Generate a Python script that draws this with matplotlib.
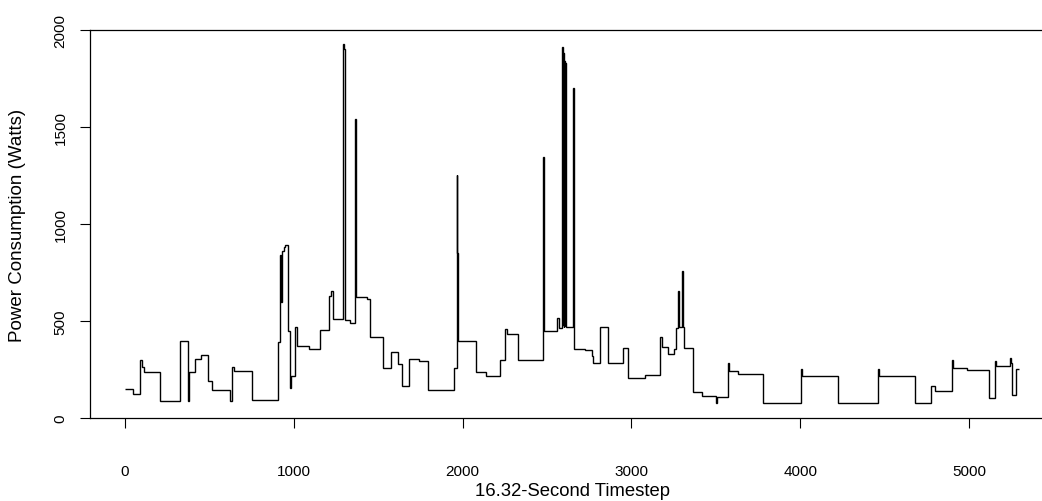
import matplotlib
matplotlib.use("Agg")
import matplotlib.pyplot as plt

# step edges (timestep index) and power level held between them
edges = [0, 45, 89, 100, 115, 207, 326, 371, 378, 415, 450, 494, 515, 622, 632, 645,
         754, 904, 918, 925, 928, 940, 948, 965, 975, 985, 1005, 1018, 1090, 1155,
         1210, 1220, 1232, 1290, 1296, 1303, 1335, 1362, 1367, 1432, 1451, 1527,
         1576, 1620, 1640, 1684, 1740, 1797, 1951, 1965, 1969, 1974, 2077, 2139,
         2222, 2251, 2265, 2330, 2478, 2483, 2557, 2572, 2587, 2592, 2595, 2598,
         2601, 2605, 2608, 2612, 2652, 2658, 2725, 2765, 2771, 2814, 2863, 2948,
         2978, 3080, 3169, 3180, 3215, 3255, 3265, 3276, 3280, 3300, 3304, 3308,
         3312, 3367, 3420, 3500, 3505, 3574, 3580, 3633, 3781, 4003, 4010, 4225,
         4459, 4465, 4680, 4775, 4800, 4897, 4905, 4990, 5120, 5155, 5160, 5240,
         5248, 5255, 5278, 5296]
watts = [150, 125, 300, 265, 235, 88, 395, 90, 235, 305, 325, 190, 145, 90, 265,
         240, 92, 390, 840, 600, 860, 880, 890, 450, 155, 215, 470, 370, 358, 455,
         630, 655, 510, 1930, 1900, 505, 490, 1540, 625, 612, 418, 260, 338, 280,
         165, 305, 292, 145, 260, 1255, 850, 395, 235, 218, 300, 460, 435, 300,
         1345, 448, 515, 465, 1910, 480, 1880, 470, 1840, 475, 1830, 470, 1700,
         355, 350, 320, 285, 470, 285, 360, 205, 220, 415, 365, 330, 355, 465, 655,
         470, 760, 620, 470, 360, 135, 112, 75, 110, 285, 240, 225, 78, 255, 215,
         77, 255, 215, 77, 165, 140, 300, 260, 245, 105, 295, 270, 310, 285, 120,
         255]

x_ticks = [0, 1000, 2000, 3000, 4000, 5000]
y_ticks = [0, 500, 1000, 1500, 2000]

plt.rcParams['font.family'] = ['Liberation Sans', 'DejaVu Sans']

fig = plt.figure(figsize=(10.42, 5.02), dpi=100)
# plot region in pixels: left 90, top 31, bottom 419, right edge runs off the canvas
ax = fig.add_axes([90 / 1042, 83 / 502, 965.5 / 1042, 388 / 502])

ax.stairs(watts, edges, baseline=None, color='black', linewidth=1.0)

ax.set_xlim(-207.5, 5512)
ax.set_ylim(0, 2000)
ax.set_xticks(x_ticks)
ax.set_yticks(y_ticks)
ax.tick_params(direction='out', length=7.2, width=0.8, colors='black', labelsize=11)
ax.tick_params(axis='y', pad=9)
ax.tick_params(axis='x', pad=26)
for lab in ax.get_yticklabels():
    lab.set_rotation(90)
    lab.set_va('center')

for sp in ax.spines.values():
    sp.set_color('black')
    sp.set_linewidth(0.9)

ax.set_xlabel('16.32-Second Timestep', fontsize=13.3, va='center')
ax.xaxis.set_label_coords(0.5, -73 / 388)
ax.set_ylabel('Power Consumption (Watts)', fontsize=13.5, va='center')
ax.yaxis.set_label_coords(-72 / 965.5, 0.5)

fig.savefig('out.png', dpi=100)
